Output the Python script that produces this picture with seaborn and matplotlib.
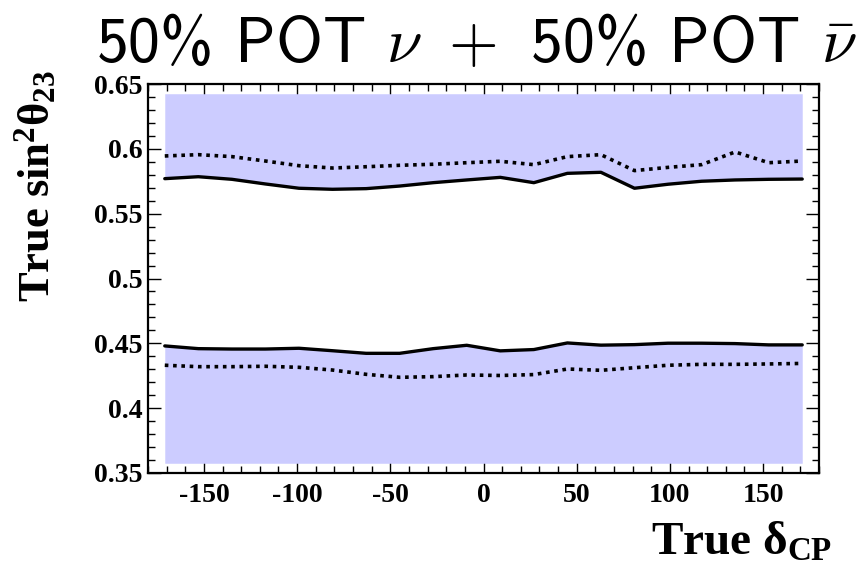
import matplotlib
matplotlib.use("Agg")
import matplotlib.pyplot as plt
import seaborn as sns
from matplotlib.ticker import FixedLocator, MultipleLocator

# values
delta_cp = [-171, -153, -135, -117, -99, -81, -63, -45, -27, -9,
            9, 27, 45, 63, 81, 99, 117, 135, 153, 171]

upper_solid = [0.5770, 0.5785, 0.5765, 0.5729, 0.5696, 0.5688, 0.5693, 0.5713, 0.5739, 0.5760,
               0.5780, 0.5739, 0.5811, 0.5819, 0.5696, 0.5727, 0.5750, 0.5760, 0.5765, 0.5767]
upper_dotted = [0.5945, 0.5955, 0.5940, 0.5906, 0.5870, 0.5852, 0.5862, 0.5873, 0.5881, 0.5893,
                0.5904, 0.5878, 0.5940, 0.5955, 0.5832, 0.5857, 0.5878, 0.5976, 0.5893, 0.5906]
lower_solid = [0.4480, 0.4459, 0.4456, 0.4456, 0.4462, 0.4443, 0.4423, 0.4423, 0.4459, 0.4485,
               0.4442, 0.4452, 0.4503, 0.4486, 0.4490, 0.4501, 0.4501, 0.4498, 0.4488, 0.4488]
lower_dotted = [0.4331, 0.4320, 0.4320, 0.4323, 0.4315, 0.4294, 0.4261, 0.4238, 0.4243, 0.4256,
                0.4252, 0.4259, 0.4302, 0.4292, 0.4312, 0.4331, 0.4338, 0.4338, 0.4341, 0.4345]

# edges of the shaded grid
band_top = 0.6425
band_bottom = 0.3575

xtick_values = [-150, -100, -50, 0, 50, 100, 150]
xtick_labels = ['-150', '-100', '-50', '0', '50', '100', '150']
ytick_values = [0.35, 0.40, 0.45, 0.50, 0.55, 0.60, 0.65]
ytick_labels = ['0.35', '0.4', '0.45', '0.5', '0.55', '0.6', '0.65']

sns.set_style("ticks")
plt.rcParams['font.family'] = ['Liberation Serif', 'DejaVu Serif']
plt.rcParams['axes.unicode_minus'] = False
plt.rcParams['text.color'] = 'black'
plt.rcParams['xtick.color'] = 'black'
plt.rcParams['ytick.color'] = 'black'
plt.rcParams['axes.labelcolor'] = 'black'
plt.rcParams['mathtext.rm'] = 'Liberation Serif:bold'
plt.rcParams['mathtext.it'] = 'Liberation Serif:bold'
plt.rcParams['mathtext.bf'] = 'Liberation Serif:bold'

fig = plt.figure(figsize=(8.64, 5.71), dpi=100)
ax = fig.add_axes([148 / 864, 1 - 473 / 571, (819 - 148) / 864, (473 - 84) / 571])

fill_col = '#ccccff'
ax.fill_between(delta_cp, upper_solid, band_top, color=fill_col, lw=0)
ax.fill_between(delta_cp, band_bottom, lower_solid, color=fill_col, lw=0)

sns.lineplot(x=delta_cp, y=upper_solid, ax=ax, color='black', lw=2.4)
sns.lineplot(x=delta_cp, y=lower_solid, ax=ax, color='black', lw=2.4)
sns.lineplot(x=delta_cp, y=upper_dotted, ax=ax, color='black', lw=2.6, linestyle=(0, (1, 1.3)))
sns.lineplot(x=delta_cp, y=lower_dotted, ax=ax, color='black', lw=2.6, linestyle=(0, (1, 1.3)))

ax.set_xlim(-180, 180)
ax.set_ylim(0.35, 0.65)
ax.xaxis.set_major_locator(FixedLocator(xtick_values))
ax.set_xticklabels(xtick_labels)
ax.xaxis.set_minor_locator(MultipleLocator(10))
ax.yaxis.set_major_locator(FixedLocator(ytick_values))
ax.set_yticklabels(ytick_labels)
ax.yaxis.set_minor_locator(MultipleLocator(0.01))

ax.tick_params(which='both', direction='in', top=True, right=True, color='black')
ax.tick_params(which='major', length=9.5, width=1.0)
ax.tick_params(which='minor', length=5, width=1.0)
ax.tick_params(axis='x', which='major', pad=7)
ax.tick_params(axis='y', which='major', pad=4)
for lab in ax.get_xticklabels() + ax.get_yticklabels():
    lab.set_fontsize(20)
    lab.set_fontweight('bold')
    lab.set_color('black')
for sp in ax.spines.values():
    sp.set_linewidth(1.6)
    sp.set_color('black')

# title in CM sans, neutrinos in CM math
fig.text(477 / 864, 1 - 62 / 571,
         r'50% POT $\nu\ +$ 50% POT $\bar{\nu}$',
         fontfamily=['cmss10', 'DejaVu Sans'], math_fontfamily='cm',
         fontsize=46, ha='center', va='baseline')

fig.text(35 / 864, 1 - 70 / 571, r'True $\mathrm{sin}^{2}\theta_{23}$',
         rotation=90, ha='center', va='top', fontsize=32, fontweight='bold',
         math_fontfamily='custom')
fig.text(832 / 864, 1 - 555 / 571, r'True $\delta_{CP}$',
         ha='right', va='baseline', fontsize=34, fontweight='bold',
         math_fontfamily='custom')

fig.savefig('out.png', dpi=100)
